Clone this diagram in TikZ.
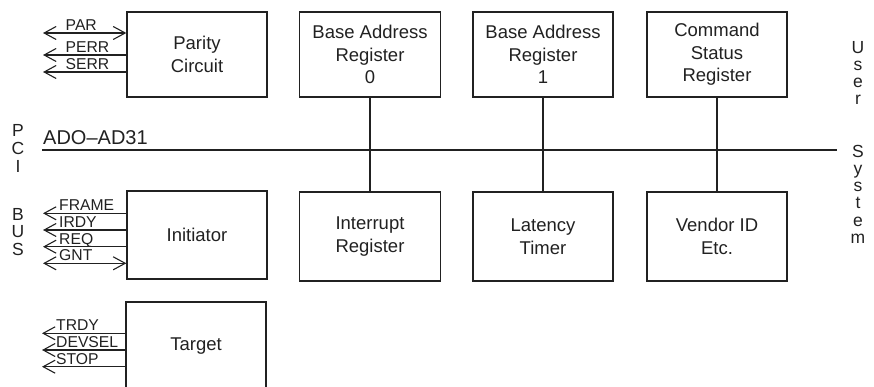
\documentclass[tikz,border=0pt]{standalone}
\usepackage{fontspec}
\setmainfont{Liberation Sans}
\usetikzlibrary{arrows.meta}
\definecolor{ink}{gray}{0.13}
\begin{document}
\begin{tikzpicture}[x=1pt,y=-1pt,
  >={Straight Barb[length=12pt,width=13pt,line width=1.1pt]},
  blk/.style={draw=ink, line width=1.3pt, rectangle, inner sep=0pt, align=center,
    font=\fontsize{18.5}{22.5}\selectfont, text=ink},
  sig/.style={draw=ink, line width=1.1pt},
  lab/.style={inner sep=0pt, anchor=base west, font=\fontsize{15.7}{15.7}\selectfont, text=ink},
  vl/.style={inner sep=0pt, anchor=base, font=\fontsize{17.5}{17.5}\selectfont, text=ink}]
\useasboundingbox (0,0) rectangle (874,387);
\clip (0,0) rectangle (874,387);

% boxes
\node[blk, minimum width=140pt, minimum height=85pt] (parity) at (197,54.5) {Parity\\Circuit};
\node[blk, minimum width=141pt, minimum height=85pt] (bar0) at (370,54.5) {Base Address\\Register\\0};
\node[blk, minimum width=140pt, minimum height=85pt] (bar1) at (543,54.5) {Base Address\\Register\\1};
\node[blk, minimum width=140pt, minimum height=85pt] (csr) at (717,54.5) {Command\\Status\\Register};
\node[blk, minimum width=140pt, minimum height=88pt] (init) at (197,235) {Initiator};
\node[blk, minimum width=141pt, minimum height=89pt] (intr) at (370,236.5) {Interrupt\\Register};
\node[blk, minimum width=140pt, minimum height=89pt] (lat) at (543,236.5) {Latency\\Timer};
\node[blk, minimum width=140pt, minimum height=89pt] (vend) at (717,236.5) {Vendor ID\\Etc.};
\node[blk, minimum width=140pt, minimum height=88pt] (targ) at (196,346) {Target};

% bus
\coordinate (busL) at (42,150);
\coordinate (busR) at (837,150);
\draw[sig] (busL) -- (busR);
\node[inner sep=0pt, anchor=base west, font=\fontsize{20}{20}\selectfont, text=ink] (busname) at (43,145) {ADO–AD31};

% vertical connectors
\draw[sig] (bar0) -- (intr);
\draw[sig] (bar1) -- (lat);
\draw[sig] (csr) -- (vend);

% parity signals
\coordinate (sPAR) at (43,33);
\coordinate (sPERR) at (43,55);
\coordinate (sSERR) at (43,72);
\draw[sig,<->] (sPAR) -- (parity.west |- sPAR);
\draw[sig,->] (parity.west |- sPERR) -- (sPERR);
\draw[sig,->] (parity.west |- sSERR) -- (sSERR);
\node[lab] (lPAR) at (65.5,30.5) {PAR};
\node[lab] (lPERR) at (65.5,52.5) {PERR};
\node[lab] (lSERR) at (65.5,69.5) {SERR};

% initiator signals
\coordinate (sFRAME) at (43,213.3);
\coordinate (sIRDY) at (43,230);
\coordinate (sREQ) at (43,246.7);
\coordinate (sGNT) at (43,263.3);
\draw[sig,->] (init.west |- sFRAME) -- (sFRAME);
\draw[sig,->] (init.west |- sIRDY) -- (sIRDY);
\draw[sig,->] (init.west |- sREQ) -- (sREQ);
\draw[sig,<->] (sGNT) -- (init.west |- sGNT);
\node[lab] (lFRAME) at (59,210.8) {FRAME};
\node[lab] (lIRDY) at (59,227.5) {IRDY};
\node[lab] (lREQ) at (59,244.2) {REQ};
\node[lab] (lGNT) at (59,260.8) {GNT};

% target signals
\coordinate (sTRDY) at (42,333.3);
\coordinate (sDEVSEL) at (42,350);
\coordinate (sSTOP) at (42,366.7);
\draw[sig,->] (targ.west |- sTRDY) -- (sTRDY);
\draw[sig,->] (targ.west |- sDEVSEL) -- (sDEVSEL);
\draw[sig,->] (targ.west |- sSTOP) -- (sSTOP);
\node[lab] (lTRDY) at (56,330.8) {TRDY};
\node[lab] (lDEVSEL) at (56,347.5) {DEVSEL};
\node[lab] (lSTOP) at (56,364.2) {STOP};

% vertical words
\foreach \c [count=\i] in {P,C,I}
  \node[vl] (pci\i) at (18,{137+17.8*(\i-1)}) {\c};
\foreach \c [count=\i] in {B,U,S}
  \node[vl] (bus\i) at (18,{220+17.5*(\i-1)}) {\c};
\foreach \c [count=\i] in {U,s,e,r}
  \node[vl] (user\i) at (858,{54+17*(\i-1)}) {\c};
\foreach \c [count=\i] in {S,y,s,t,e,m}
  \node[vl] (sys\i) at (858,{158+17*(\i-1)}) {\c};
\end{tikzpicture}
\end{document}
